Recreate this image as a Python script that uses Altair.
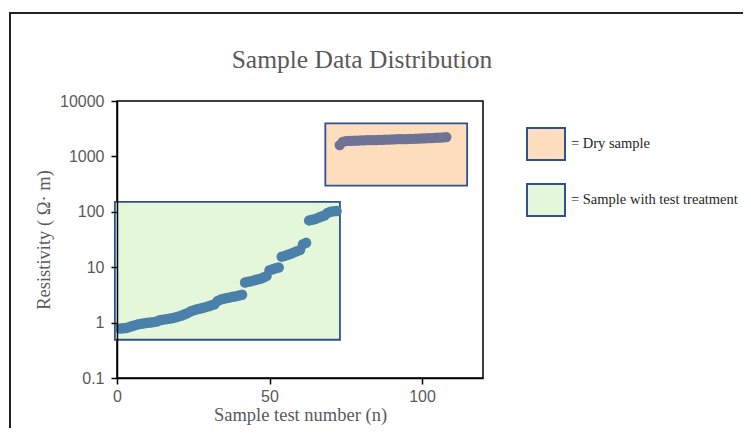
import altair as alt
import pandas as pd

# ---- data ----
treated_n = list(range(1, 73))
treated_res = [0.78, 0.79, 0.80, 0.83, 0.87, 0.90, 0.93, 0.95, 0.97, 0.99,
               1.00, 1.02, 1.05, 1.10, 1.13, 1.15, 1.17, 1.20, 1.24, 1.28,
               1.33, 1.40, 1.48, 1.58, 1.66, 1.72, 1.78, 1.84, 1.90, 1.97,
               2.05, 2.15, 2.45, 2.60, 2.70, 2.78, 2.85, 2.92, 3.00, 3.08,
               3.18, 5.30, 5.45, 5.60, 5.80, 6.00, 6.20, 6.50, 6.90, 8.80,
               9.20, 9.60, 9.90, 15.5, 16.0, 16.8, 17.5, 18.5, 19.5, 20.5,
               26.0, 27.5, 70.0, 72.0, 74.0, 78.0, 82.0, 86.0, 95.0, 100.0,
               102.0, 103.0]

dry_n = list(range(73, 109))
dry_res = [1600, 1820, 1880, 1900, 1910, 1920, 1930, 1940, 1950, 1960,
           1965, 1970, 1975, 1985, 1995, 2005, 2010, 2020, 2030, 2040,
           2050, 2055, 2060, 2070, 2080, 2090, 2100, 2110, 2120, 2130,
           2145, 2160, 2175, 2190, 2210, 2230]

box_label = ["Dry sample", "Sample with test treatment"]
box_n_start = [68.3, -0.7]
box_n_end = [114.8, 73.1]
box_res_low = [296, 0.49]
box_res_high = [3950, 151]

x_ticks = [0, 50, 100]
y_ticks = [0.1, 1, 10, 100, 1000, 10000]

treated = pd.DataFrame({"n": treated_n, "res": treated_res})
dry = pd.DataFrame({"n": dry_n, "res": dry_res})
boxes = pd.DataFrame({"label": box_label, "n0": box_n_start, "n1": box_n_end,
                      "r0": box_res_low, "r1": box_res_high})

W, H = 366, 277
GRAY = "#595959"

xscale = alt.Scale(domain=[0, 120], nice=False, zero=False)
yscale = alt.Scale(type="log", domain=[0.1, 10000], nice=False)

xaxis = alt.Axis(values=x_ticks, title="Sample test number (n)", grid=False,
                 domainColor="black", domainWidth=1.5, tickColor="black",
                 tickWidth=1.5, tickSize=6, labelFont="Liberation Sans",
                 labelFontSize=16, labelColor=GRAY, labelPadding=4,
                 labelFlush=False, titleFont="Liberation Serif",
                 titleFontSize=18.5, titleColor=GRAY, titleFontWeight="normal",
                 titlePadding=1, zindex=1)
yaxis = alt.Axis(values=y_ticks, format="~g", title="Resistivity ( Ω· m)",
                 grid=False, domainColor="black", domainWidth=1.5,
                 tickColor="black", tickWidth=1.5, tickSize=6,
                 labelFont="Liberation Sans", labelFontSize=16,
                 labelColor=GRAY, labelPadding=7, titleFont="Liberation Serif",
                 titleFontSize=18.5, titleColor=GRAY, titleFontWeight="normal",
                 titlePadding=6, zindex=1)

frame = alt.Chart(pd.DataFrame({"a": [0]})).mark_rect(
    fill="transparent", stroke="#222222", strokeWidth=2
).encode(x=alt.value(-107), x2=alt.value(900), y=alt.value(-88), y2=alt.value(600))

rects = alt.Chart(boxes).mark_rect(stroke="#2F528F", strokeWidth=1.8).encode(
    x=alt.X("n0:Q", scale=xscale, axis=xaxis),
    x2="n1:Q",
    y=alt.Y("r0:Q", scale=yscale, axis=yaxis),
    y2="r1:Q",
    color=alt.Color(
        "label:N",
        scale=alt.Scale(domain=box_label, range=["#FDDDBE", "#E4F7DB"]),
        legend=alt.Legend(
            title=None, orient="none", legendX=409, legendY=23,
            symbolType="M-1,-0.84L1,-0.84L1,0.84L-1,0.84Z", symbolSize=1444,
            symbolStrokeColor="#2F528F", symbolStrokeWidth=2, symbolOpacity=1,
            labelExpr="'= ' + datum.label", labelFont="Liberation Serif",
            labelFontSize=14.5, labelColor="#262626", labelOffset=5,
            rowPadding=16, padding=0, labelLimit=0,
        ),
    ),
)

pts_treated = alt.Chart(treated).mark_circle(size=110, opacity=1, color="#4A80AA").encode(
    x=alt.X("n:Q", scale=xscale, axis=xaxis),
    y=alt.Y("res:Q", scale=yscale, axis=yaxis),
)
pts_dry = alt.Chart(dry).mark_circle(size=105, opacity=1, color="#6E7396").encode(
    x=alt.X("n:Q", scale=xscale, axis=xaxis),
    y=alt.Y("res:Q", scale=yscale, axis=yaxis),
)

chart = alt.layer(frame, rects, pts_treated, pts_dry).properties(
    width=W, height=H,
    title=alt.TitleParams("Sample Data Distribution", font="Liberation Serif",
                          fontSize=25.5, fontWeight="normal", color=GRAY,
                          anchor="middle", dx=62, offset=0, dy=61),
    autosize=alt.AutoSizeParams(type="none"),
    padding={"left": 109, "top": 93, "right": 260, "bottom": 50},
    background="white",
).configure_view(stroke="black", strokeWidth=1.5)

chart.save("out.html", embed_options={"renderer": "svg", "actions": False})
